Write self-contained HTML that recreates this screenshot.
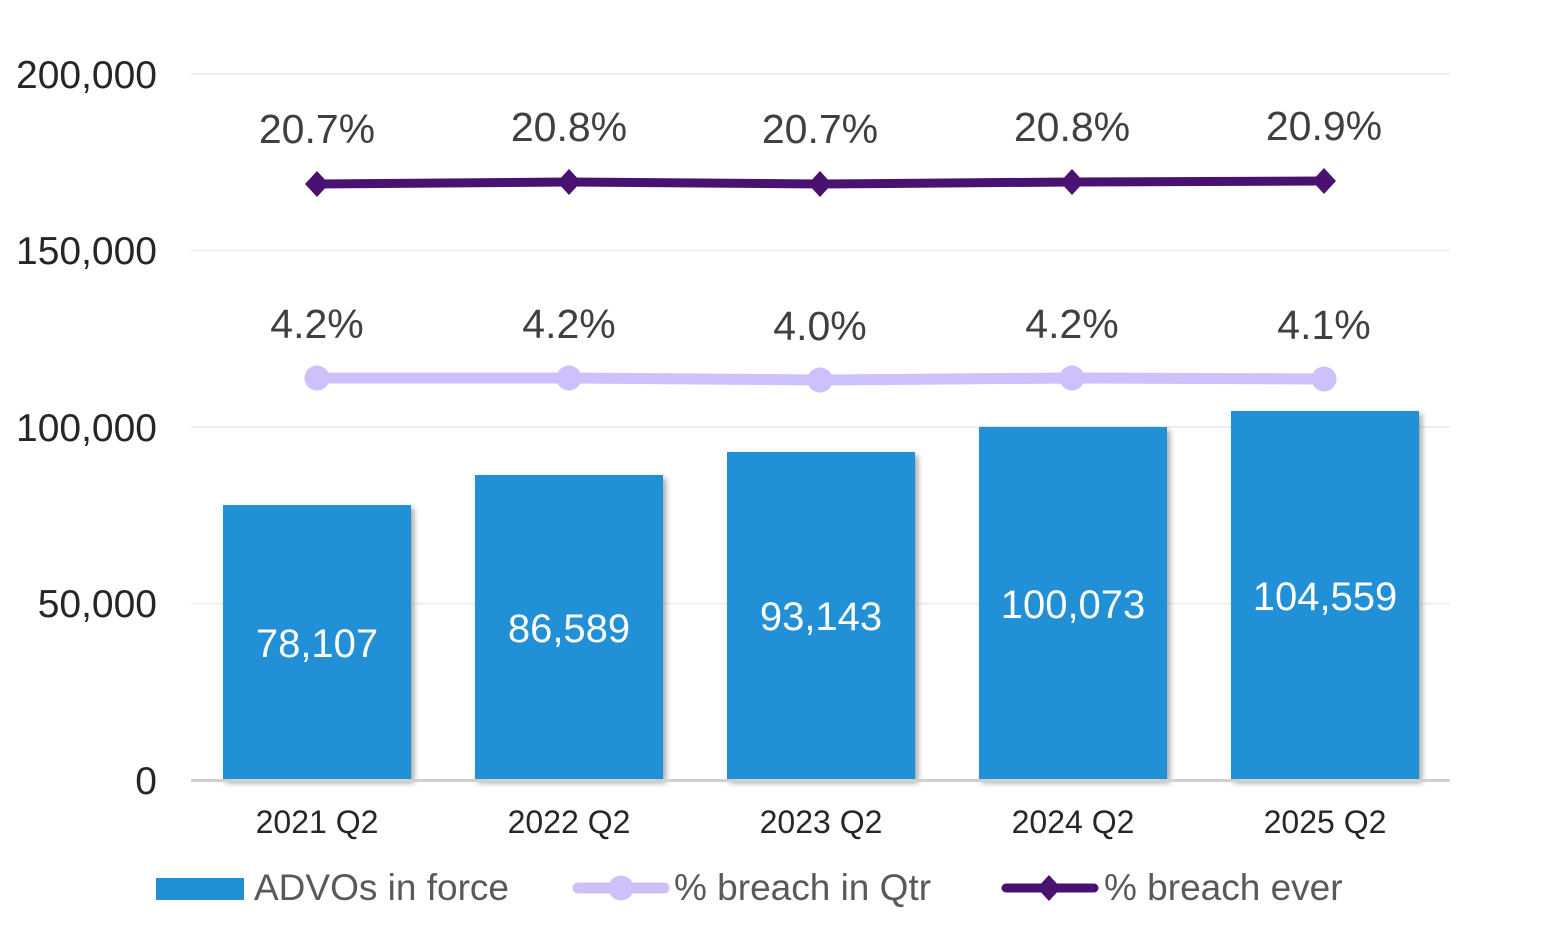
<!DOCTYPE html>
<html>
<head>
<meta charset="utf-8">
<style>
  html, body { margin: 0; padding: 0; background: #ffffff; }
  body { width: 1568px; height: 944px; overflow: hidden; }
  svg { display: block; font-family: "Liberation Sans", Arial, sans-serif; }
</style>
</head>
<body>
<svg width="1568" height="944" viewBox="0 0 1568 944" xmlns="http://www.w3.org/2000/svg">
  <defs>
    <filter id="sh" x="-10%" y="-10%" width="130%" height="130%">
      <feGaussianBlur in="SourceAlpha" stdDeviation="3"/>
      <feOffset dx="3" dy="3" result="b"/>
      <feComponentTransfer><feFuncA type="linear" slope="0.35"/></feComponentTransfer>
      <feMerge><feMergeNode/><feMergeNode in="SourceGraphic"/></feMerge>
    </filter>
  </defs>

  <!-- gridlines -->
  <g stroke="#efefef" stroke-width="2">
    <line x1="191" y1="74" x2="1450" y2="74"/>
    <line x1="191" y1="250.5" x2="1450" y2="250.5"/>
    <line x1="191" y1="427" x2="1450" y2="427"/>
    <line x1="191" y1="603.5" x2="1450" y2="603.5"/>
  </g>

  <!-- y axis labels -->
  <g font-size="39" fill="#262626" text-anchor="end">
    <text x="157" y="88">200,000</text>
    <text x="157" y="264">150,000</text>
    <text x="157" y="441">100,000</text>
    <text x="157" y="617">50,000</text>
    <text x="157" y="794">0</text>
  </g>

  <!-- bars -->
  <g fill="#2290d6" filter="url(#sh)">
    <rect x="223" y="505" width="188" height="275"/>
    <rect x="475" y="475" width="188" height="305"/>
    <rect x="727" y="452" width="188" height="328"/>
    <rect x="979" y="427" width="188" height="353"/>
    <rect x="1231" y="411" width="188" height="369"/>
  </g>

  <!-- axis line -->
  <line x1="191" y1="780.5" x2="1450" y2="780.5" stroke="#d0d0d0" stroke-width="3"/>

  <!-- bar labels -->
  <g font-size="40" fill="#ffffff" text-anchor="middle">
    <text x="317" y="657">78,107</text>
    <text x="569" y="642">86,589</text>
    <text x="821" y="630">93,143</text>
    <text x="1073" y="618">100,073</text>
    <text x="1325" y="610">104,559</text>
  </g>

  <!-- % breach in Qtr line -->
  <polyline points="317,378 569,378 820,380 1072,378 1324,379" fill="none" stroke="#cdc0fb" stroke-width="11" stroke-linejoin="round"/>
  <g fill="#cdc0fb">
    <circle cx="317" cy="378" r="12.5"/>
    <circle cx="569" cy="378" r="12.5"/>
    <circle cx="820" cy="380" r="12.5"/>
    <circle cx="1072" cy="378" r="12.5"/>
    <circle cx="1324" cy="379" r="12.5"/>
  </g>

  <!-- % breach ever line -->
  <polyline points="317,184 569,182 820,184 1072,182 1324,181" fill="none" stroke="#4a1270" stroke-width="9" stroke-linejoin="round"/>
  <g fill="#4a1270">
    <polygon points="317,171 329,184 317,197 305,184"/>
    <polygon points="569,169 581,182 569,195 557,182"/>
    <polygon points="820,171 832,184 820,197 808,184"/>
    <polygon points="1072,169 1084,182 1072,195 1060,182"/>
    <polygon points="1324,168 1336,181 1324,194 1312,181"/>
  </g>

  <!-- percentage labels -->
  <g font-size="41" fill="#404040" text-anchor="middle">
    <text x="317" y="143">20.7%</text>
    <text x="569" y="141">20.8%</text>
    <text x="820" y="143">20.7%</text>
    <text x="1072" y="141">20.8%</text>
    <text x="1324" y="140">20.9%</text>

    <text x="317" y="338">4.2%</text>
    <text x="569" y="338">4.2%</text>
    <text x="820" y="340">4.0%</text>
    <text x="1072" y="338">4.2%</text>
    <text x="1324" y="339">4.1%</text>
  </g>

  <!-- category labels -->
  <g font-size="32" fill="#262626" text-anchor="middle">
    <text x="317" y="833">2021 Q2</text>
    <text x="569" y="833">2022 Q2</text>
    <text x="821" y="833">2023 Q2</text>
    <text x="1073" y="833">2024 Q2</text>
    <text x="1325" y="833">2025 Q2</text>
  </g>

  <!-- legend -->
  <rect x="156" y="878" width="88" height="22" fill="#2290d6"/>
  <text x="254" y="900" font-size="37" fill="#595959">ADVOs in force</text>

  <line x1="578" y1="888" x2="664" y2="888" stroke="#cdc0fb" stroke-width="11" stroke-linecap="round"/>
  <circle cx="621" cy="888" r="12.5" fill="#cdc0fb"/>
  <text x="674" y="900" font-size="37" fill="#595959">% breach in Qtr</text>

  <line x1="1006" y1="888" x2="1094" y2="888" stroke="#4a1270" stroke-width="9" stroke-linecap="round"/>
  <polygon points="1049,875 1061,888 1049,901 1037,888" fill="#4a1270"/>
  <text x="1104" y="900" font-size="37" fill="#595959">% breach ever</text>
</svg>
</body>
</html>
